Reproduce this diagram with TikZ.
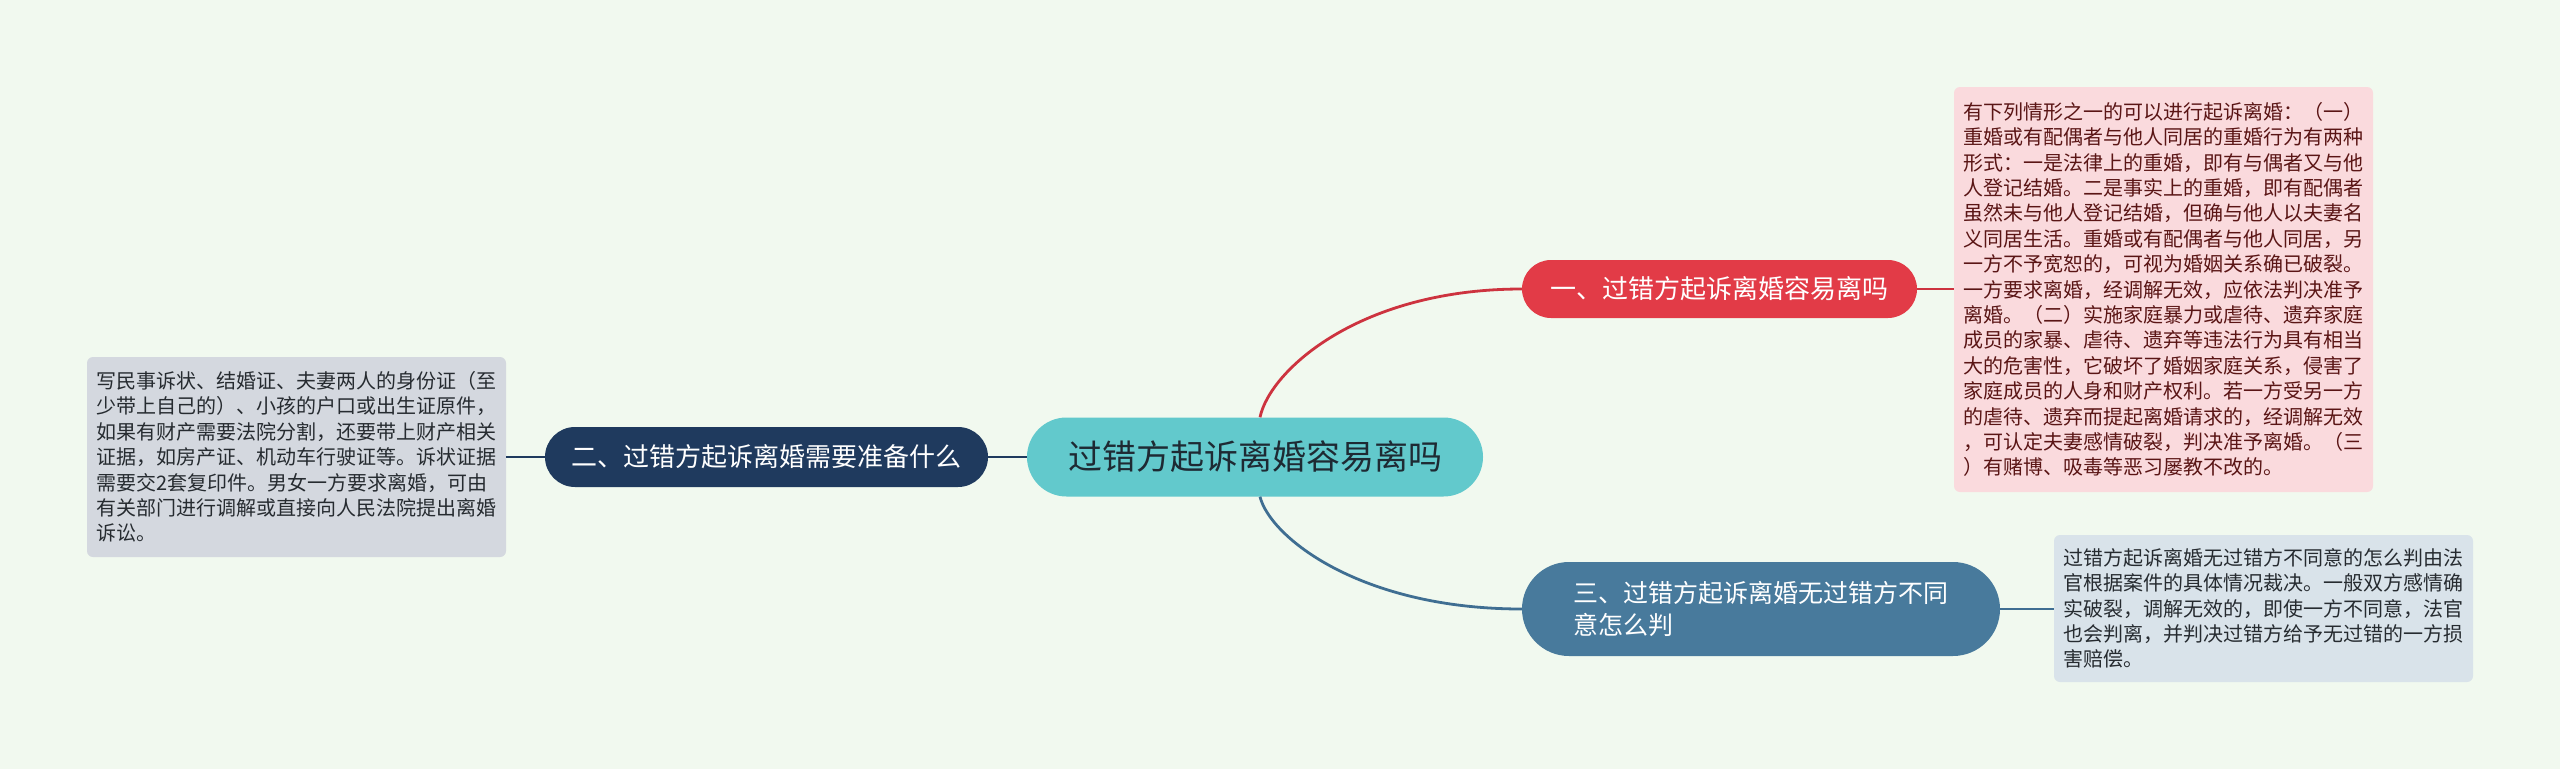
\documentclass[tikz,border=0pt]{standalone}
\usepackage{fontspec}
\setmainfont{Noto Sans CJK SC}
\definecolor{bg}{HTML}{F1F9EF}
\definecolor{cteal}{HTML}{62C9CC}
\definecolor{ctxt}{HTML}{1E2A33}
\definecolor{cred}{HTML}{E23B47}
\definecolor{credline}{HTML}{CD333F}
\definecolor{cnavy}{HTML}{1F3A5E}
\definecolor{cblue}{HTML}{487A9C}
\definecolor{cblueline}{HTML}{3F6E92}
\definecolor{cpink}{HTML}{FADADD}
\definecolor{cmaroon}{HTML}{5A1515}
\definecolor{cgray}{HTML}{D4D8DF}
\definecolor{cgray2}{HTML}{D9E3EA}
\definecolor{cdark}{HTML}{262B30}
\begin{document}
\begin{tikzpicture}[x=1pt,y=-1pt,
  pill/.style={inner sep=0pt, align=center},
  infobox/.style={rounded corners=6pt, inner xsep=9pt, inner ysep=0pt, align=left,
     text width=401pt, minimum width=419pt, font=\fontsize{20pt}{25.4pt}\selectfont},
  conn/.style={line width=2.8pt}]
\fill[bg] (0,0) rectangle (2560,769);
\useasboundingbox (0,0) rectangle (2560,769);

\node[pill, fill=cteal, text=ctxt, minimum width=456pt, minimum height=79pt, rounded corners=39.5pt,
  font=\fontsize{34pt}{40pt}\selectfont] (c) at (1255,457) {过错方起诉离婚容易离吗};

\node[pill, fill=cred, text=white, minimum width=395pt, minimum height=58pt, rounded corners=29pt,
  font=\fontsize{26pt}{32pt}\selectfont] (n1) at (1719.5,289) {一、过错方起诉离婚容易离吗};

\node[pill, fill=cnavy, text=white, minimum width=443pt, minimum height=60pt, rounded corners=30pt,
  font=\fontsize{26pt}{32pt}\selectfont] (n2) at (766.5,457) {二、过错方起诉离婚需要准备什么};

\node[pill, fill=cblue, text=white, minimum width=478pt, minimum height=94pt, rounded corners=47pt,
  text width=376pt, align=left, font=\fontsize{25pt}{32pt}\selectfont] (n3) at (1761,609)
  {三、过错方起诉离婚无过错方不同\\意怎么判};

\node[infobox, fill=cpink, text=cmaroon, minimum height=405pt] (b1) at (2163.5,289.5) {%
有下列情形之一的可以进行起诉离婚：（一）\\
重婚或有配偶者与他人同居的重婚行为有两种\\
形式：一是法律上的重婚，即有与偶者又与他\\
人登记结婚。二是事实上的重婚，即有配偶者\\
虽然未与他人登记结婚，但确与他人以夫妻名\\
义同居生活。重婚或有配偶者与他人同居，另\\
一方不予宽恕的，可视为婚姻关系确已破裂。\\
一方要求离婚，经调解无效，应依法判决准予\\
离婚。（二）实施家庭暴力或虐待、遗弃家庭\\
成员的家暴、虐待、遗弃等违法行为具有相当\\
大的危害性，它破坏了婚姻家庭关系，侵害了\\
家庭成员的人身和财产权利。若一方受另一方\\
的虐待、遗弃而提起离婚请求的，经调解无效\\
，可认定夫妻感情破裂，判决准予离婚。（三\\
）有赌博、吸毒等恶习屡教不改的。};

\node[infobox, fill=cgray, text=cdark, minimum height=200pt] (b2) at (296.5,457) {%
写民事诉状、结婚证、夫妻两人的身份证（至\\
少带上自己的）、小孩的户口或出生证原件，\\
如果有财产需要法院分割，还要带上财产相关\\
证据，如房产证、机动车行驶证等。诉状证据\\
需要交2套复印件。男女一方要求离婚，可由\\
有关部门进行调解或直接向人民法院提出离婚\\
诉讼。};

\node[infobox, fill=cgray2, text=cdark, minimum height=147pt] (b3) at (2263.5,608.5) {%
过错方起诉离婚无过错方不同意的怎么判由法\\
官根据案件的具体情况裁决。一般双方感情确\\
实破裂，调解无效的，即使一方不同意，法官\\
也会判离，并判决过错方给予无过错的一方损\\
害赔偿。};

\draw[conn, credline] ([xshift=5pt]c.north) .. controls (1270,370) and (1360,289) .. (n1.west);
\draw[conn, credline] (n1.east) -- (n1.east -| b1.west);
\draw[conn, cblueline] ([xshift=5pt]c.south) .. controls (1270,537) and (1360,609) .. (n3.west);
\draw[conn, cblueline] (n3.east) -- (n3.east -| b3.west);
\draw[conn, cnavy] (c.west) -- (n2.east);
\draw[conn, cnavy] (n2.west) -- (b2.east);
\end{tikzpicture}
\end{document}
